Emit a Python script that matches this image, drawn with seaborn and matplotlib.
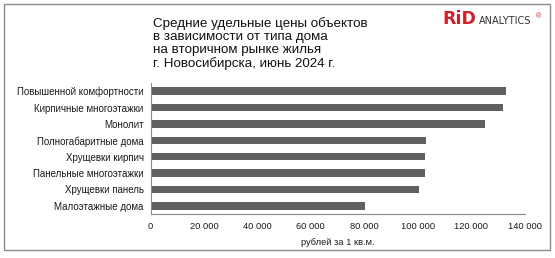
import matplotlib
matplotlib.use("Agg")
import matplotlib.pyplot as plt
import matplotlib.patches as mpatches
from matplotlib.ticker import FuncFormatter, FixedLocator
import seaborn as sns
import pandas as pd

# Average price per square metre by building type (secondary market)
house_types = [
    "Повышенной комфортности",
    "Кирпичные многоэтажки",
    "Монолит",
    "Полногабаритные дома",
    "Хрущевки кирпич",
    "Панельные многоэтажки",
    "Хрущевки панель",
    "Малоэтажные дома",
]
prices = [132900, 131800, 125000, 103000, 102600, 102600, 100400, 80100]

x_ticks = [0, 20000, 40000, 60000, 80000, 100000, 120000, 140000]

title_text = ("Средние удельные цены объектов\n"
              "в зависимости от типа дома\n"
              "на вторичном рынке жилья\n"
              "г. Новосибирска, июнь 2024 г.")
x_label = "рублей за 1 кв.м."

sns.set_style("white")
plt.rcParams["font.family"] = ["Liberation Sans", "DejaVu Sans"]

df = pd.DataFrame({"type": house_types, "price": prices})

W, H = 555, 258
fig = plt.figure(figsize=(W / 100, H / 100), dpi=100)
fig.patch.set_facecolor("white")

# axes placed in pixel terms
left, right, top, bottom = 150.5, 524.7, 83, 214
ax = fig.add_axes([left / W, (H - bottom) / H, (right - left) / W, (bottom - top) / H])

sns.barplot(data=df, x="price", y="type", orient="h", color="#606060",
            saturation=1, width=0.46, linewidth=0, ax=ax)

ax.set_xlim(0, 140000)
ax.set_ylim(len(house_types) - 0.5, -0.5)

axis_color = "#8a8a8a"
for side in ["top", "right"]:
    ax.spines[side].set_visible(False)
for side in ["left", "bottom"]:
    ax.spines[side].set_color(axis_color)
    ax.spines[side].set_linewidth(0.8)

ax.xaxis.set_major_locator(FixedLocator(x_ticks))
ax.xaxis.set_major_formatter(FuncFormatter(lambda v, p: f"{int(v):,}".replace(",", " ")))
ax.tick_params(axis="x", direction="out", length=3.5, width=0.8, color=axis_color,
               labelsize=6.7, labelcolor="#1a1a1a", pad=2.5)

# category ticks sit between the bars
ax.yaxis.set_minor_locator(FixedLocator([i - 0.5 for i in range(len(house_types) + 1)]))
ax.tick_params(axis="y", which="minor", direction="out", length=3.5, width=0.8, color=axis_color)
ax.tick_params(axis="y", which="major", length=0, labelsize=7, labelcolor="#1a1a1a", pad=5)

ax.set_ylabel("")
ax.set_xlabel(x_label, fontsize=6.7, color="#1a1a1a", labelpad=5)
ax.grid(False)

# title block
fig.text(153 / W, 1 - 17 / H, title_text, ha="left", va="top",
         fontsize=9.6, color="#111111", linespacing=1.1)

# logo
fig.text(442.5 / W, 1 - 24.5 / H, "RiD", ha="left", va="baseline",
         fontsize=12.5, fontweight="bold", color="#d0202a", family="DejaVu Sans")
fig.text(479 / W, 1 - 24.5 / H, "ANALYTICS", ha="left", va="baseline",
         fontsize=7.0, color="#333333", family="DejaVu Sans")
fig.text(538.5 / W, 1 - 17 / H, "®", ha="center", va="center",
         fontsize=5, color="#d0202a")

# outer frame
frame = mpatches.Rectangle((3.5 / W, (H - 250) / H), (549.5 - 3.5) / W, (250 - 4) / H,
                           transform=fig.transFigure, fill=False,
                           edgecolor="#8c8c8c", linewidth=1.0)
fig.patches.append(frame)

fig.savefig("out.png", dpi=100, facecolor="white")
